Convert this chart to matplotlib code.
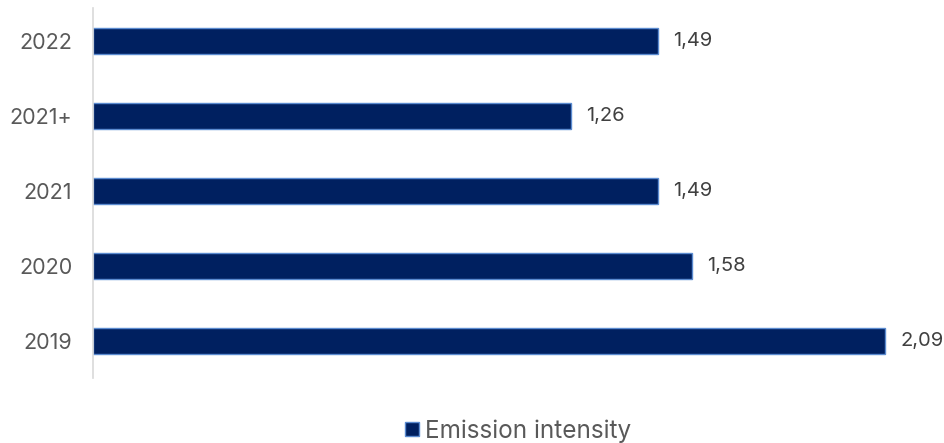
import matplotlib.pyplot as plt
import numpy as np

plt.rcParams['font.family'] = ['Inter', 'DejaVu Sans']

# data (bottom to top)
years = ["2019", "2020", "2021", "2021+", "2022"]
intensity = [2.09, 1.58, 1.49, 1.26, 1.49]
series_name = "Emission intensity"

bar_color = "#002060"
edge_color = "#5B8BD0"
text_color = "#595959"

fig = plt.figure(figsize=(9.45, 4.43), dpi=100)
ax = fig.add_axes([93 / 945, 1 - 378 / 443, 837 / 945, 370 / 443])

y = np.arange(len(years))
bars = ax.barh(y, intensity, height=0.35, color=bar_color, edgecolor=edge_color,
               linewidth=1, label=series_name)

for b, v in zip(bars, intensity):
    ax.text(b.get_width() + 0.04, b.get_y() + b.get_height() / 2,
            f"{v:.2f}".replace(".", ","), va="center", ha="left",
            fontsize=14.5, color="#404040")

ax.set_xlim(0, 837 / 379)
ax.set_ylim(-0.49, 4.44)
ax.set_yticks(y)
ax.set_yticklabels(years, fontsize=15.5, color=text_color)
ax.tick_params(axis="y", length=0, pad=15)
ax.set_xticks([])

for s in ["top", "right", "bottom"]:
    ax.spines[s].set_visible(False)
ax.spines["left"].set_color("#D9D9D9")
ax.spines["left"].set_linewidth(1.2)

fig.legend(handles=[bars], labels=[series_name], loc="center",
           bbox_to_anchor=(518 / 945, 1 - 431 / 443), frameon=False,
           fontsize=17.5, handlelength=0.55, handleheight=0.55, handletextpad=0.25,
           labelcolor=text_color)

fig.savefig("out.png", dpi=100)
